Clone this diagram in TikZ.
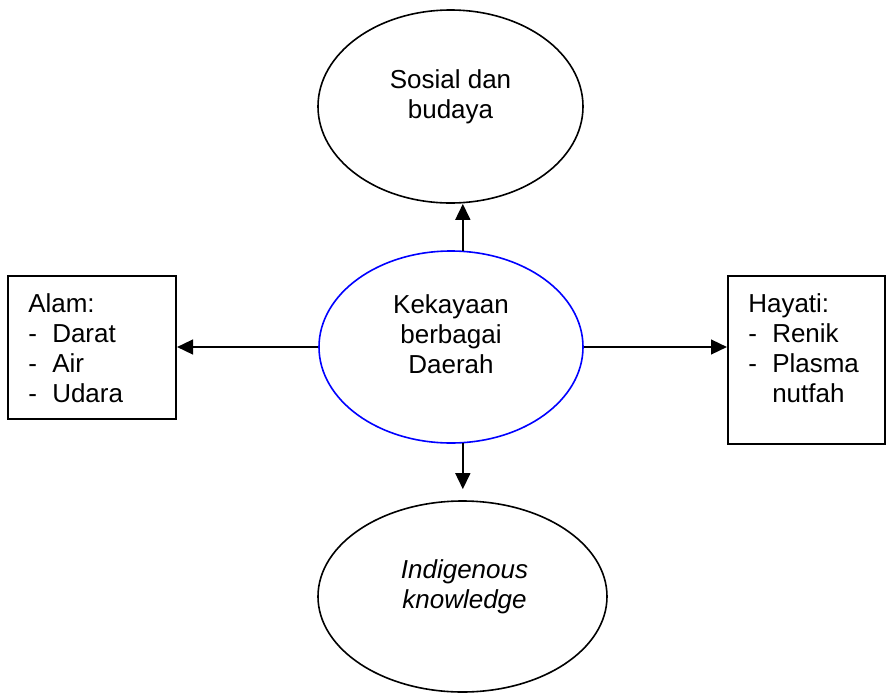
\documentclass[tikz,border=0pt]{standalone}
\usepackage{fontspec}
\setmainfont{Liberation Sans}
\usetikzlibrary{shapes.geometric,arrows.meta}

\newcommand{\dashitem}{\makebox[18pt][l]{-}}

\begin{document}
\begin{tikzpicture}[x=0.75pt,y=-0.75pt,
    font=\fontsize{19.5pt}{22.5pt}\selectfont,
    ell/.style={ellipse,draw,line width=1.2pt,inner sep=0pt},
    box/.style={rectangle,draw,line width=1.5pt,anchor=north west,inner sep=0pt},
    txt/.style={inner sep=0pt,align=center},
    lst/.style={inner sep=0pt,align=left,anchor=north west},
    arr/.style={line width=1.8pt,-{Triangle[length=12pt,width=11pt]}}]
  \useasboundingbox (0,0) rectangle (886,693);

  % shapes
  \node[ell, minimum width=198.75pt, minimum height=144.75pt] (sosial) at (450.5,106.5) {};
  \node[ell, draw=blue, minimum width=198pt, minimum height=144pt] (kaya) at (451,347) {};
  \node[ell, minimum width=216.75pt, minimum height=143.25pt] (indig) at (462.5,596.5) {};
  \node[box, minimum width=126pt, minimum height=107.25pt] (alam) at (7,275) {};
  \node[box, minimum width=117.75pt, minimum height=126pt] (hayati) at (727,275) {};

  % texts
  \node[txt] (sosialT) at (450.5,97) {Sosial dan\\budaya};
  \node[txt] (kayaT) at (451,334) {Kekayaan\\berbagai\\Daerah};
  \node[txt, font=\fontsize{19.5pt}{22.5pt}\selectfont\itshape] (indigT) at (464.5,587) {Indigenous\\knowledge};
  \node[lst] (alamT) at (28,293) {Alam:\\\dashitem Darat\\\dashitem Air\\\dashitem Udara};
  \node[lst] (hayatiT) at (748,293) {Hayati:\\\dashitem Renik\\\dashitem Plasma\\\hspace*{18pt}nutfah};

  % arrows
  \draw[arr] (kaya.83) -- (kaya.83 |- sosial.south);
  \draw[arr, shorten >=8.25pt] (kaya.-83) -- (kaya.-83 |- indig.north);
  \draw[arr] (kaya.west) -- (kaya.west -| alam.east);
  \draw[arr] (kaya.east) -- (kaya.east -| hayati.west);
\end{tikzpicture}
\end{document}
